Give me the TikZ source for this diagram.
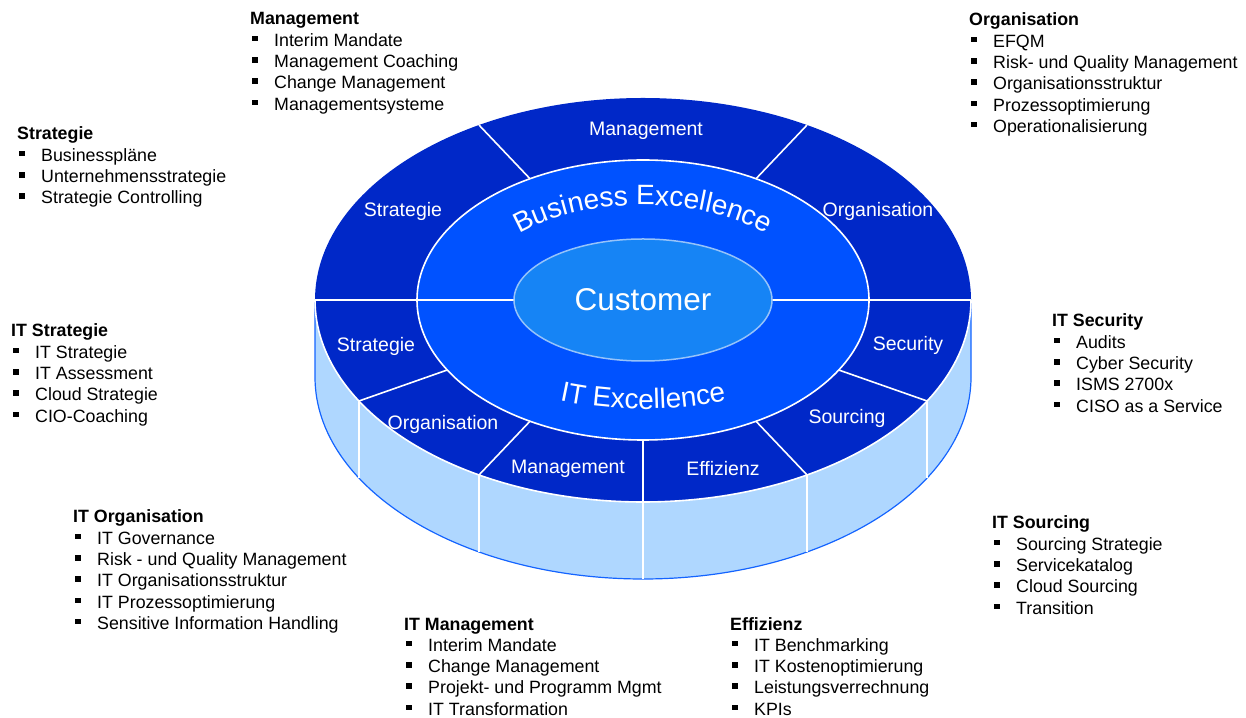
\documentclass[tikz,border=0pt]{standalone}
\usepackage{fontspec}
\setmainfont{Liberation Sans}
\usepackage{tikz}
\usetikzlibrary{calc, decorations.text}

\definecolor{ringdark}{RGB}{0,40,200}
\definecolor{ringmid}{RGB}{0,82,255}
\definecolor{custblue}{RGB}{22,132,245}
\definecolor{custrim}{RGB}{150,195,250}
\definecolor{sidelight}{RGB}{175,215,255}
\definecolor{sideedge}{RGB}{20,100,255}

\newcommand{\itm}[1]{\makebox[24pt][l]{\hspace{2pt}\rule[5pt]{5.5pt}{5.5pt}}#1}

\tikzset{
  seglabel/.style={anchor=base, text=white, inner sep=0pt, font=\fontsize{19.5}{22}\selectfont},
  liste/.style={anchor=base west, inner sep=0pt, font=\fontsize{17.8}{21.3}\selectfont},
  divline/.style={white, line width=1.6pt}
}

\begin{document}
\begin{tikzpicture}[x=1pt, y=1pt]
  \useasboundingbox (0,0) rectangle (1246,717);
  \coordinate (top) at (643,417);
  \coordinate (bot) at (643,340);

  \fill[sidelight] ($(top)+(-328,0)$) -- ($(bot)+(-328,0)$)
    arc[start angle=180, end angle=360, x radius=328, y radius=202] -- ($(top)+(328,0)$) -- cycle;
  \draw[sideedge, line width=1.2pt] ($(top)+(-328,0)$) -- ($(bot)+(-328,0)$)
    arc[start angle=180, end angle=360, x radius=328, y radius=202] -- ($(top)+(328,0)$);
  \foreach \a in {210,240,270,300,330}
    \draw[divline] ($(top)+(\a:328 and 202)$) -- ($(bot)+(\a:328 and 202)$);

  \fill[ringdark] (top) ellipse[x radius=328, y radius=202];
  \draw[divline] ($(top)+(-328,0)$) arc[start angle=180, end angle=360, x radius=328, y radius=202];
  \filldraw[fill=ringmid, draw=white, line width=1.6pt] (top) ellipse[x radius=226, y radius=140];
  \foreach \a in {60,120,210,240,270,300,330}
    \draw[divline] ($(top)+(\a:226 and 140)$) -- ($(top)+(\a:328 and 202)$);
  \draw[divline] ($(top)+(-328,0)$) -- ($(top)+(328,0)$);
  \filldraw[fill=custblue, draw=custrim, line width=1.5pt] (top) ellipse[x radius=129, y radius=61];
  \node[text=white, inner sep=0pt, font=\fontsize{31.5}{36}\selectfont] (cust) at (top) {Customer};

  \path[decorate, decoration={text along path, text color=white, text align=center,
      text={|\fontsize{28}{32}\selectfont|Business Excellence}}]
    ($(top)+(180:172 and 95)$) arc[start angle=180, end angle=0, x radius=172, y radius=95];
  \path[decorate, decoration={text along path, text color=white, text align=center,
      text={|\fontsize{28}{32}\selectfont|IT Excellence}}]
    ($(top)+(180:215 and 109)$) arc[start angle=180, end angle=360, x radius=215, y radius=109];

  \foreach \n/\x/\y/\t in {bstrat/403/500/Strategie, bmgmt/646/581/Management, borg/878/500/Organisation,
      istrat/376/365/Strategie, iorg/443/287/Organisation, imgmt/568/243/Management,
      ieff/723/241/Effizienz, isrc/847/293/Sourcing, isec/908/366/Security}
    \node[seglabel] (\n) at (\x,\y) {\t};

  \node[liste] (lstmgmt) at (250,692) {\begin{tabular}[t]{@{}l@{}}
    \textbf{Management}\\ \itm{Interim Mandate}\\ \itm{Management Coaching}\\
    \itm{Change Management}\\ \itm{Managementsysteme}\end{tabular}};
  \node[liste] (lststrat) at (17,577) {\begin{tabular}[t]{@{}l@{}}
    \textbf{Strategie}\\ \itm{Businesspläne}\\ \itm{Unternehmensstrategie}\\
    \itm{Strategie Controlling}\end{tabular}};
  \node[liste] (lstorg) at (969,691) {\begin{tabular}[t]{@{}l@{}}
    \textbf{Organisation}\\ \itm{EFQM}\\ \itm{Risk- und Quality Management}\\
    \itm{Organisationsstruktur}\\ \itm{Prozessoptimierung}\\ \itm{Operationalisierung}\end{tabular}};
  \node[liste] (lstitstrat) at (11,380) {\begin{tabular}[t]{@{}l@{}}
    \textbf{IT Strategie}\\ \itm{IT Strategie}\\ \itm{IT Assessment}\\
    \itm{Cloud Strategie}\\ \itm{CIO-Coaching}\end{tabular}};
  \node[liste] (lstitorg) at (73,194) {\begin{tabular}[t]{@{}l@{}}
    \textbf{IT Organisation}\\ \itm{IT Governance}\\ \itm{Risk - und Quality Management}\\
    \itm{IT Organisationsstruktur}\\ \itm{IT Prozessoptimierung}\\
    \itm{Sensitive Information Handling}\end{tabular}};
  \node[liste] (lstitmgmt) at (404,87) {\begin{tabular}[t]{@{}l@{}}
    \textbf{IT Management}\\ \itm{Interim Mandate}\\ \itm{Change Management}\\
    \itm{Projekt- und Programm Mgmt}\\ \itm{IT Transformation}\end{tabular}};
  \node[liste] (lsteff) at (730,87) {\begin{tabular}[t]{@{}l@{}}
    \textbf{Effizienz}\\ \itm{IT Benchmarking}\\ \itm{IT Kostenoptimierung}\\
    \itm{Leistungsverrechnung}\\ \itm{KPIs}\end{tabular}};
  \node[liste] (lstitsec) at (1052,390) {\begin{tabular}[t]{@{}l@{}}
    \textbf{IT Security}\\ \itm{Audits}\\ \itm{Cyber Security}\\
    \itm{ISMS 2700x}\\ \itm{CISO as a Service}\end{tabular}};
  \node[liste] (lstitsrc) at (992,188) {\begin{tabular}[t]{@{}l@{}}
    \textbf{IT Sourcing}\\ \itm{Sourcing Strategie}\\ \itm{Servicekatalog}\\
    \itm{Cloud Sourcing}\\ \itm{Transition}\end{tabular}};
\end{tikzpicture}
\end{document}
